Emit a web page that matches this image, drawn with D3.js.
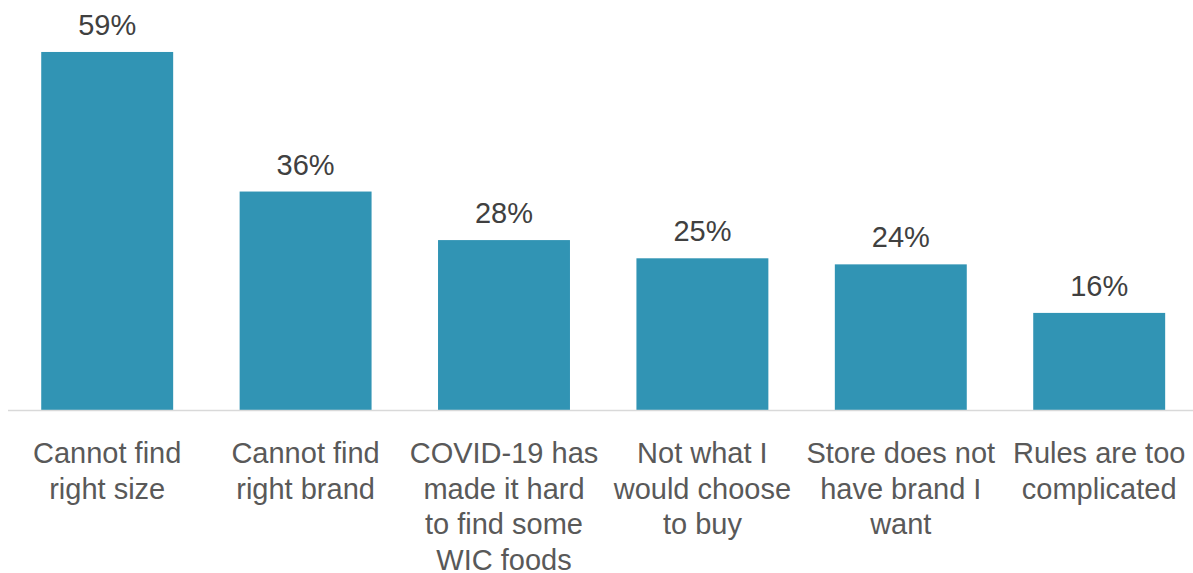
<!DOCTYPE html>
<html>
<head>
<meta charset="utf-8">
<script src="https://cdn.jsdelivr.net/npm/d3@7"></script>
<style>
  html, body { margin: 0; padding: 0; background: #ffffff; }
  svg { display: block; }
  text { font-family: "Liberation Sans", Arial, sans-serif; }
</style>
</head>
<body>
<svg id="chart" width="1193" height="573"></svg>
<script>
// Reasons WIC participants could not buy foods (share of respondents)
const categories = [
  "Cannot find right size",
  "Cannot find right brand",
  "COVID-19 has made it hard to find some WIC foods",
  "Not what I would choose to buy",
  "Store does not have brand I want",
  "Rules are too complicated"
];
// Axis label lines for each category
const categoryLines = [
  ["Cannot find", "right size"],
  ["Cannot find", "right brand"],
  ["COVID-19 has", "made it hard", "to find some", "WIC foods"],
  ["Not what I", "would choose", "to buy"],
  ["Store does not", "have brand I", "want"],
  ["Rules are too", "complicated"]
];
const values = [59, 36, 28, 25, 24, 16];

const svg = d3.select("#chart");

const x = d3.scaleBand()
  .domain(categories)
  .range([8, 1198.4])
  .paddingInner(0.335)
  .paddingOuter(0.1675);

const y = d3.scaleLinear()
  .domain([0, 60])
  .range([410, 45.9]);

// Bars
svg.append("g")
  .selectAll("rect")
  .data(values)
  .join("rect")
  .attr("x", (d, i) => x(categories[i]))
  .attr("y", d => y(d))
  .attr("width", x.bandwidth())
  .attr("height", d => y(0) - y(d))
  .attr("fill", "#3194b4");

// Baseline
svg.append("line")
  .attr("x1", 8)
  .attr("x2", 1193)
  .attr("y1", y(0) + 0.5)
  .attr("y2", y(0) + 0.5)
  .attr("stroke", "#d9d9d9")
  .attr("stroke-width", 1.5);

// Value labels
svg.append("g")
  .selectAll("text")
  .data(values)
  .join("text")
  .attr("x", (d, i) => x(categories[i]) + x.bandwidth() / 2)
  .attr("y", d => y(d) - 17)
  .attr("text-anchor", "middle")
  .attr("font-size", 29)
  .attr("fill", "#404040")
  .text(d => d + "%");

// Category labels
const labels = svg.append("g")
  .selectAll("text")
  .data(categories)
  .join("text")
  .attr("x", d => x(d) + x.bandwidth() / 2)
  .attr("y", 463)
  .attr("text-anchor", "middle")
  .attr("font-size", 29)
  .attr("fill", "#595959");

labels.selectAll("tspan")
  .data((d, i) => categoryLines[i])
  .join("tspan")
  .attr("x", function () { return d3.select(this.parentNode).attr("x"); })
  .attr("dy", (d, j) => j === 0 ? 0 : 35.7)
  .text(d => d);
</script>
</body>
</html>
